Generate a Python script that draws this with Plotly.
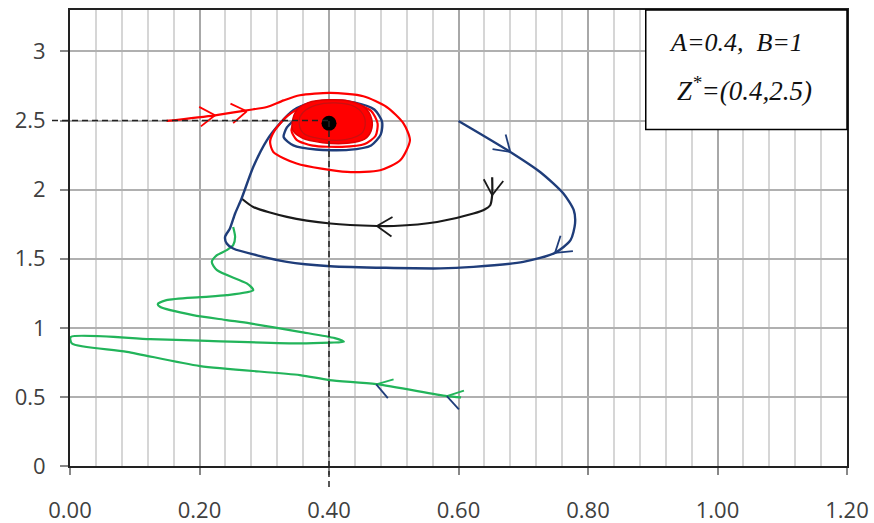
import math
import plotly.graph_objects as go

# ---------------- data ----------------
x_ticks = [0.0, 0.2, 0.4, 0.6, 0.8, 1.0, 1.2]
x_tick_labels = ["0.00", "0.20", "0.40", "0.60", "0.80", "1.00", "1.20"]
y_ticks = [0, 0.5, 1, 1.5, 2, 2.5, 3]
y_tick_labels = ["0", "0.5", "1", "1.5", "2", "2.5", "3"]

eq_x, eq_y = 0.4, 2.5          # equilibrium Z*
dot_x, dot_y = 0.4, 2.48

green_x = [0.604, 0.582, 0.473, 0.400, 0.355, 0.201, 0.088, 0.003, 0.001, 0.124, 0.201,
           0.355, 0.402, 0.423, 0.409, 0.355, 0.278, 0.242, 0.190, 0.139, 0.1355,
           0.149, 0.201, 0.242, 0.283, 0.273, 0.227, 0.219, 0.227, 0.242, 0.252, 0.255, 0.252]
green_y = [0.497, 0.506, 0.593, 0.622, 0.658, 0.723, 0.826, 0.887, 0.933, 0.918, 0.907,
           0.887, 0.893, 0.899, 0.925, 0.971, 1.032, 1.056, 1.092, 1.152, 1.171,
           1.200, 1.222, 1.236, 1.273, 1.321, 1.417, 1.477, 1.526, 1.562, 1.598, 1.658, 1.730]

black_x = [0.652, 0.652, 0.649, 0.641, 0.623, 0.567, 0.500, 0.474, 0.402, 0.335, 0.283, 0.265]
black_y = [2.090, 1.960, 1.887, 1.858, 1.827, 1.766, 1.737, 1.737, 1.755, 1.803, 1.875, 1.936]

blue_x = [0.600, 0.680, 0.726, 0.762, 0.778, 0.780, 0.773, 0.749, 0.700, 0.623, 0.572,
          0.402, 0.335, 0.252, 0.242, 0.2395, 0.247, 0.255, 0.265, 0.283, 0.304, 0.324,
          0.345, 0.370, 0.405, 0.440, 0.470, 0.482, 0.480, 0.465, 0.430, 0.380, 0.345,
          0.330, 0.335, 0.350]
blue_y = [2.497, 2.273, 2.128, 1.972, 1.851, 1.755, 1.634, 1.542, 1.477, 1.441, 1.430,
          1.446, 1.477, 1.574, 1.610, 1.658, 1.719, 1.827, 1.936, 2.164, 2.357, 2.478,
          2.574, 2.625, 2.645, 2.630, 2.580, 2.490, 2.400, 2.320, 2.288, 2.290, 2.320,
          2.380, 2.450, 2.520]

red_x = [0.149, 0.224, 0.273, 0.304, 0.330, 0.355, 0.402, 0.453, 0.489, 0.515, 0.525,
         0.510, 0.479, 0.428, 0.350, 0.314, 0.309, 0.315, 0.335, 0.360, 0.400, 0.440,
         0.465, 0.475, 0.472, 0.455, 0.420, 0.375, 0.350, 0.342, 0.350]
red_y = [2.497, 2.538, 2.574, 2.598, 2.646, 2.683, 2.700, 2.676, 2.598, 2.479, 2.357,
         2.212, 2.140, 2.128, 2.189, 2.273, 2.345, 2.420, 2.530, 2.600, 2.630, 2.620,
         2.570, 2.480, 2.390, 2.330, 2.310, 2.318, 2.360, 2.430, 2.520]

blob_x = [0.343, 0.350, 0.368, 0.400, 0.432, 0.455, 0.466, 0.465, 0.455, 0.428, 0.390, 0.358, 0.344]
blob_y = [2.480, 2.575, 2.630, 2.650, 2.640, 2.595, 2.510, 2.425, 2.365, 2.335, 2.340, 2.375, 2.430]

inner_x = [0.360, 0.380, 0.410, 0.440, 0.455, 0.452, 0.425, 0.388, 0.360, 0.354, 0.360]
inner_y = [2.560, 2.612, 2.628, 2.600, 2.520, 2.415, 2.362, 2.368, 2.410, 2.500, 2.560]

# arrows: tip x, tip y, travel direction (deg, screen), colours of the two arms
arrow_x = [0.224, 0.273, 0.474, 0.652, 0.680, 0.749, 0.582, 0.473]
arrow_y = [2.538, 2.567, 1.737, 1.960, 2.273, 1.542, 0.506, 0.591]
arrow_ang = [5, 8, 177, 265, -42, 219, 165, 163]
arrow_col_a = ["#ff0000", "#ff0000", "#1a1a1a", "#1a1a1a", "#1f3d7a", "#1f3d7a", "#22b45a", "#22b45a"]
arrow_col_b = ["#ff0000", "#ff0000", "#1a1a1a", "#1a1a1a", "#1f3d7a", "#1f3d7a", "#1f3d7a", "#1f3d7a"]

# ---------------- layout geometry ----------------
W, H = 874, 523
ML, MR, MT, MB = 70, 27, 10, 57
X_RANGE = [0, 1.2]
Y_RANGE = [0, 3.3]
plot_w = W - ML - MR
plot_h = H - MT - MB
px_x = plot_w / (X_RANGE[1] - X_RANGE[0])
px_y = plot_h / (Y_RANGE[1] - Y_RANGE[0])

GREEN = "#22b45a"
BLUE = "#1f3d7a"
BLACK = "#1a1a1a"
RED = "#ff0000"

fig = go.Figure()

def curve(xs, ys, color, width=2.2):
    fig.add_trace(go.Scatter(x=xs, y=ys, mode="lines",
                             line=dict(color=color, width=width, shape="spline", smoothing=0.7),
                             hoverinfo="skip", showlegend=False))

curve(green_x, green_y, GREEN)
curve(black_x, black_y, BLACK)
curve(blue_x, blue_y, BLUE, 2.4)
curve(red_x, red_y, RED)

fig.add_trace(go.Scatter(x=blob_x + blob_x[:1], y=blob_y + blob_y[:1], mode="lines",
                         fill="toself", fillcolor=RED,
                         line=dict(color="#e00000", width=1.5, shape="spline", smoothing=1.0),
                         hoverinfo="skip", showlegend=False))
fig.add_trace(go.Scatter(x=inner_x, y=inner_y, mode="lines",
                         line=dict(color="#c81010", width=1.2, shape="spline", smoothing=1.0),
                         hoverinfo="skip", showlegend=False))

# chevron arrows
L, HALF = 18, 33
for tx, ty, ang, ca, cb in zip(arrow_x, arrow_y, arrow_ang, arrow_col_a, arrow_col_b):
    back = ang + 180
    for s, col in ((HALF, ca), (-HALF, cb)):
        a = math.radians(back + s)
        ex = tx + L * math.cos(a) / px_x
        ey = ty + L * math.sin(a) / px_y
        fig.add_trace(go.Scatter(x=[tx, ex], y=[ty, ey], mode="lines",
                                 line=dict(color=col, width=1.8),
                                 hoverinfo="skip", showlegend=False))

# equilibrium dot
fig.add_trace(go.Scatter(x=[dot_x], y=[dot_y], mode="markers",
                         marker=dict(color="black", size=15),
                         hoverinfo="skip", showlegend=False))

# dashed guide lines (extend slightly outside the plot area)
ex_paper = (eq_x - X_RANGE[0]) / (X_RANGE[1] - X_RANGE[0])
ey_paper = (eq_y - Y_RANGE[0]) / (Y_RANGE[1] - Y_RANGE[0])
fig.add_shape(type="line", xref="paper", yref="paper", x0=-18 / plot_w, x1=ex_paper,
              y0=ey_paper, y1=ey_paper, line=dict(color="#222", width=1.5, dash="6px,4px"), layer="above")
fig.add_shape(type="line", xref="paper", yref="paper", x0=ex_paper, x1=ex_paper,
              y0=-21 / plot_h, y1=ey_paper, line=dict(color="#222", width=1.5, dash="6px,4px"), layer="above")

# parameter box
fig.add_shape(type="rect", xref="paper", yref="paper", x0=0.741, x1=1.0, y0=0.738, y1=1.0,
              line=dict(color="black", width=1.5), fillcolor="white", layer="above")
box_font = dict(family="Liberation Serif", size=26, color="#111")
fig.add_annotation(xref="paper", yref="paper", x=0.857, y=0.928, text="<i>A=0.4,  B=1</i>",
                   showarrow=False, font=box_font, xanchor="center", yanchor="middle")
fig.add_annotation(xref="paper", yref="paper", x=0.868, y=0.826, text="<i>Z<sup>*</sup>=(0.4,2.5)</i>",
                   showarrow=False, font=dict(family="Liberation Serif", size=27, color="#111"),
                   xanchor="center", yanchor="middle")

tick_font = dict(family="Open Sans", size=22, color="#404040")
fig.update_layout(
    width=W, height=H, margin=dict(l=ML, r=MR, t=MT, b=MB, autoexpand=False),
    paper_bgcolor="white", plot_bgcolor="white",
    xaxis=dict(range=X_RANGE, tickvals=x_ticks, ticktext=x_tick_labels,
               showgrid=True, gridcolor="#a8a8a8", gridwidth=1.5,
               minor=dict(dtick=0.04, showgrid=True, gridcolor="#d6d6d6", gridwidth=1.5),
               ticks="outside", ticklen=7, tickcolor="#888", tickwidth=1.5,
               showline=True, linecolor="#222", linewidth=2, mirror=True,
               zeroline=False, tickfont=tick_font, ticklabelstandoff=17,
               ticklabeloverflow="allow"),
    yaxis=dict(range=Y_RANGE, tickvals=y_ticks, ticktext=y_tick_labels,
               showgrid=True, gridcolor="#b0b0b0", gridwidth=1.5,
               ticks="outside", ticklen=8, tickcolor="#888", tickwidth=1.5,
               showline=True, linecolor="#222", linewidth=2, mirror=True,
               zeroline=False, tickfont=tick_font, ticklabelstandoff=10),
)

# remove the default 8px page margin so the figure sits at the window's corner
fig.write_html("out.html", config={"displayModeBar": False},
               post_script="document.body.style.margin='0';document.body.style.overflow='hidden';")
